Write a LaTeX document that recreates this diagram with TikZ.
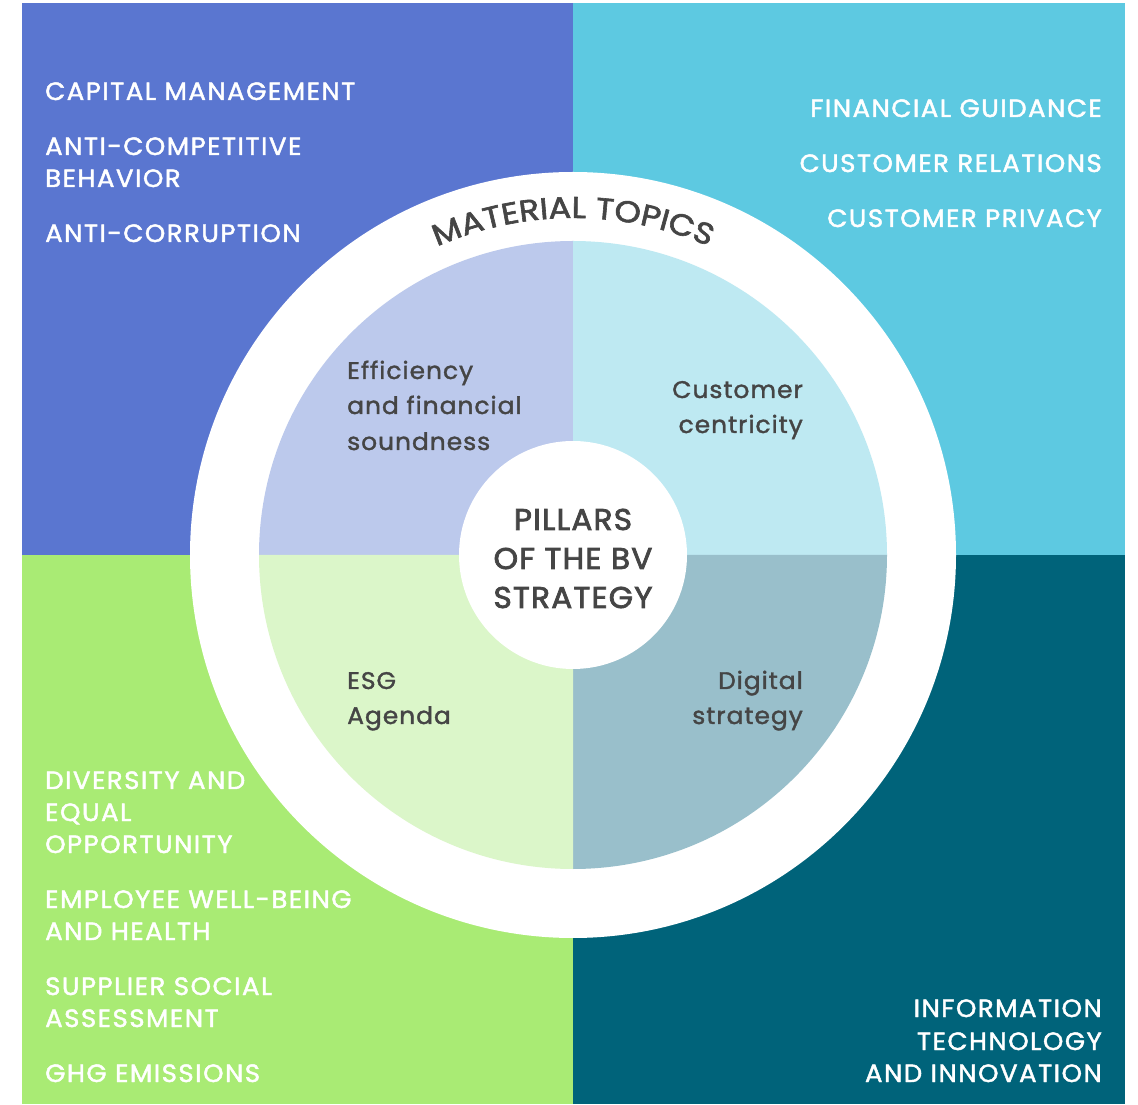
\documentclass[tikz,border=0pt]{standalone}
\usepackage{fontspec}
\setmainfont{Poppins}
\newfontfamily\topicfont{Poppins}[FakeBold=1.8, FakeStretch=1.04, LetterSpace=6]
\newfontfamily\pillarfont{Poppins}[FakeBold=1.5, FakeStretch=1.04, LetterSpace=4]
\newfontfamily\hubfont{Poppins}[FakeBold=2.5, FakeStretch=1.04, LetterSpace=4]
\newfontfamily\ringfont{Poppins}[FakeBold=2, FakeStretch=1.12]
\usetikzlibrary{decorations.text}
\definecolor{qTL}{HTML}{5A76D0}
\definecolor{qTR}{HTML}{5DC9E1}
\definecolor{qBL}{HTML}{A9EB74}
\definecolor{qBR}{HTML}{00637A}
\definecolor{pTL}{HTML}{BCC9EC}
\definecolor{pTR}{HTML}{BEE9F2}
\definecolor{pBL}{HTML}{DBF6C9}
\definecolor{pBR}{HTML}{99BFCB}
\definecolor{ink}{HTML}{454545}
\begin{document}
\begin{tikzpicture}[x=1pt,y=1pt,
  topic/.style={inner sep=0pt, text=white, font=\topicfont\fontsize{25}{25}\selectfont},
  topicL/.style={topic, anchor=base west},
  topicR/.style={topic, anchor=base east},
  pillar/.style={inner sep=0pt, text=ink, font=\pillarfont\fontsize{24}{24}\selectfont},
  hub/.style={inner sep=0pt, text=ink, anchor=base, font=\hubfont\fontsize{30}{30}\selectfont}]
\useasboundingbox (0,0) rectangle (1138,1104);
% four coloured quarters
\fill[qTL] (21.5,549) rectangle (573,1101);
\fill[qTR] (573,549) rectangle (1125,1101);
\fill[qBL] (21.5,0) rectangle (573,549);
\fill[qBR] (573,0) rectangle (1125,549);
% white ring and pie of pillars
\coordinate (c) at (573,549);
\fill[white] (c) circle[radius=383];
\fill[pTL] (c) -- ++(180:314) arc[start angle=180,end angle=90,radius=314] -- cycle;
\fill[pTR] (c) -- ++(90:314) arc[start angle=90,end angle=0,radius=314] -- cycle;
\fill[pBR] (c) -- ++(0:314) arc[start angle=0,end angle=-90,radius=314] -- cycle;
\fill[pBL] (c) -- ++(-90:314) arc[start angle=-90,end angle=-180,radius=314] -- cycle;
\fill[white] (c) circle[radius=114];
% ring caption
\path[decorate,decoration={text along path,text align=center,text color=ink,
  text={|\ringfont\fontsize{30}{30}\selectfont|MATERIAL TOPICS}}]
  (c) ++(150:337) arc[start angle=150,end angle=30,radius=337];
% topics, top left
\node[topicL] (t1) at (45,1004) {CAPITAL MANAGEMENT};
\node[topicL] (t2a) at (45,949) {ANTI-COMPETITIVE};
\node[topicL] (t2b) at (45,917) {BEHAVIOR};
\node[topicL] (t3) at (45,862) {ANTI-CORRUPTION};
% topics, top right
\node[topicR] (t4) at (1102,987) {FINANCIAL GUIDANCE};
\node[topicR] (t5) at (1102,932) {CUSTOMER RELATIONS};
\node[topicR] (t6) at (1102,877) {CUSTOMER PRIVACY};
% topics, bottom left
\node[topicL] (t7a) at (45,315) {DIVERSITY AND};
\node[topicL] (t7b) at (45,283) {EQUAL};
\node[topicL] (t7c) at (45,251) {OPPORTUNITY};
\node[topicL] (t8a) at (45,196) {EMPLOYEE WELL-BEING};
\node[topicL] (t8b) at (45,164) {AND HEALTH};
\node[topicL] (t9a) at (45,109) {SUPPLIER SOCIAL};
\node[topicL] (t9b) at (45,77) {ASSESSMENT};
\node[topicL] (t10) at (45,22) {GHG EMISSIONS};
% topics, bottom right
\node[topicR] (t11a) at (1102,87) {INFORMATION};
\node[topicR] (t11b) at (1102,54) {TECHNOLOGY};
\node[topicR] (t11c) at (1102,22) {AND INNOVATION};
% pillars
\node[pillar,anchor=base west] (p1a) at (347,725) {Efficiency};
\node[pillar,anchor=base west] (p1b) at (347,690) {and financial};
\node[pillar,anchor=base west] (p1c) at (347,654) {soundness};
\node[pillar,anchor=base east] (p2a) at (803,706) {Customer};
\node[pillar,anchor=base east] (p2b) at (803,671) {centricity};
\node[pillar,anchor=base west] (p3a) at (347,415) {ESG};
\node[pillar,anchor=base west] (p3b) at (347,380) {Agenda};
\node[pillar,anchor=base east] (p4a) at (803,415) {Digital};
\node[pillar,anchor=base east] (p4b) at (803,380) {strategy};
% hub
\node[hub] (h1) at (573,574) {PILLARS};
\node[hub] (h2) at (573,535) {OF THE BV};
\node[hub] (h3) at (573,496) {STRATEGY};
\end{tikzpicture}
\end{document}
